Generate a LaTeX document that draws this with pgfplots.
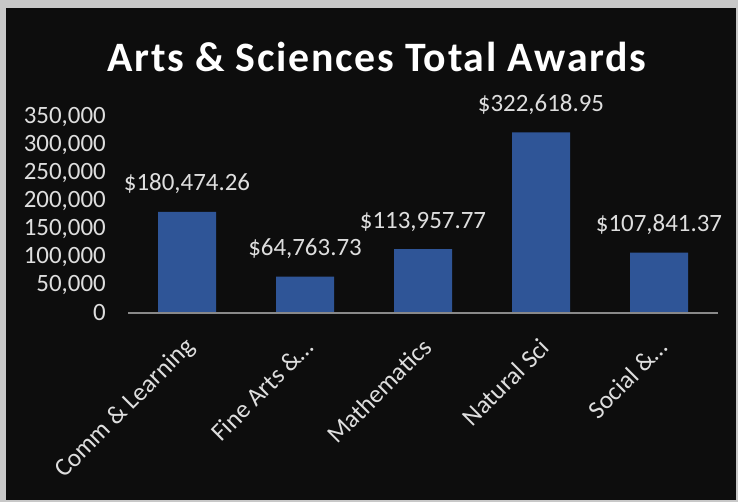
\documentclass[border=0pt]{standalone}
\usepackage{fontspec}
\setmainfont{Carlito}
\usepackage{pgfplots}
\usepackage{pgfplotstable}
\pgfplotsset{compat=1.18}
\definecolor{frame}{RGB}{200,200,200}
\definecolor{panel}{RGB}{13,13,13}
\definecolor{barblue}{RGB}{47,85,151}
\definecolor{txt}{RGB}{222,222,222}
\definecolor{axisgray}{RGB}{137,137,137}
\pgfplotstableread{
x y label
0 180474.26 180,474.26
1 64763.73 64,763.73
2 113957.77 113,957.77
3 322618.95 322,618.95
4 107841.37 107,841.37
}\awards
\begin{document}
\begin{tikzpicture}[x=1bp,y=1bp]
\useasboundingbox (0,0) rectangle (738,502);
\fill[frame] (0,0) rectangle (738,502);
\fill[panel] (6,2) rectangle (736,494);
\node[anchor=base, text=white, inner sep=0pt, font=\fontsize{42}{44}\selectfont\bfseries\addfontfeatures{LetterSpace=4}] at (377,430) {Arts \& Sciences Total Awards};
\begin{axis}[
  at={(128bp,189bp)}, anchor=south west,
  scale only axis, width=590bp, height=196bp,
  xmin=-0.5, xmax=4.5, ymin=0, ymax=350000,
  axis on top, clip=false,
  axis x line*=bottom, axis y line*=left,
  x axis line style={draw=axisgray, line width=1.5bp, -},
  y axis line style={draw=none},
  major tick length=0pt,
  xtick=data,
  xticklabels={Comm \& Learning, Fine Arts \&\ldots, Mathematics, Natural Sci, Social \&\ldots},
  ytick={0,50000,...,350000},
  scaled y ticks=false,
  /pgf/number format/.cd, fixed, 1000 sep={,}, assume math mode=true,
  /pgfplots/.cd,
  yticklabel style={font=\fontsize{25}{27}\selectfont, text=txt, inner sep=0pt, anchor=east, xshift=-22bp},
  xticklabel style={font=\fontsize{25.5}{27}\selectfont, text=txt, inner sep=0pt, xshift=4bp, yshift=-30bp, rotate=45, anchor=east},
  ybar, bar width=58bp,
  nodes near coords={\$\pgfplotspointmeta},
  every node near coord/.append style={font=\fontsize{25}{27}\selectfont, text=txt, inner sep=0pt, anchor=base, yshift=21bp},
]
\addplot[fill=barblue, draw=none, point meta=explicit symbolic] table[x=x, y=y, meta=label] {\awards};
\end{axis}
\end{tikzpicture}
\end{document}
